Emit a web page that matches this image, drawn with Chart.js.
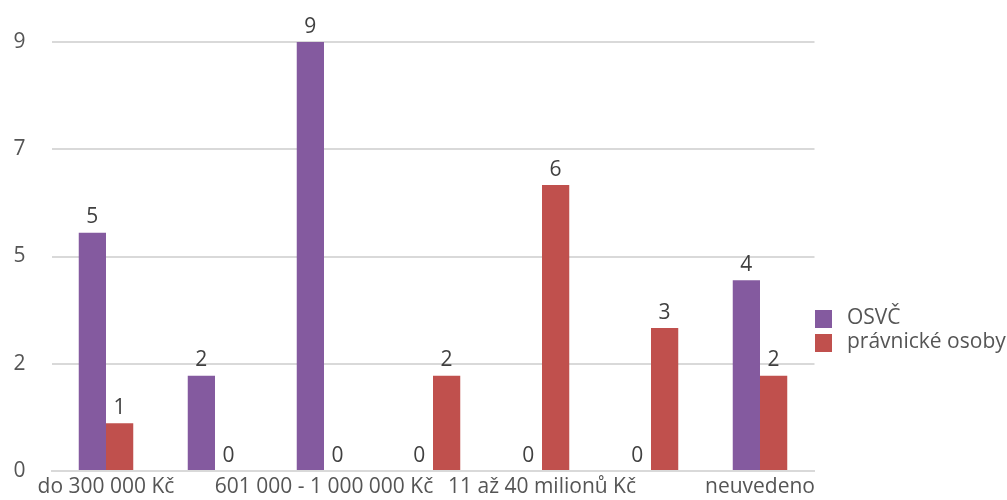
<!DOCTYPE html>
<html>
<head>
<meta charset="utf-8">
<script src="https://cdn.jsdelivr.net/npm/chart.js@4"></script>
<style>
  html, body { margin: 0; padding: 0; background: #ffffff; }
  #wrap { width: 1007px; height: 500px; position: relative; }
</style>
</head>
<body>
<div id="wrap"><canvas id="c" width="1007" height="500"></canvas></div>
<script>
const categories = [
  "do 300 000 Kč",
  "301 000 - 600 000 Kč",
  "601 000 - 1 000 000 Kč",
  "1 až 10 milionů Kč",
  "11 až 40 milionů Kč",
  "nad 40 milionů Kč",
  "neuvedeno"
];
const seriesNames = ["OSVČ", "právnické osoby"];
const osvcValues = [5, 2, 9, 0, 0, 0, 4];
const pravnickeValues = [1, 0, 0, 2, 6, 3, 2];
const yTickValues = [0, 2.25, 4.5, 6.75, 9];
const colors = ["#845A9F", "#C0504D"];

const FONT = "'Open Sans', 'Noto Sans', sans-serif";
const TEXT = "#555555";
const FS = 21;

const dataLabels = {
  id: 'dataLabels',
  afterDatasetsDraw(chart) {
    const ctx = chart.ctx;
    ctx.save();
    ctx.font = FS + "px " + FONT;
    ctx.fillStyle = "#404040";
    ctx.textAlign = "center";
    ctx.textBaseline = "alphabetic";
    chart.data.datasets.forEach((ds, di) => {
      const meta = chart.getDatasetMeta(di);
      meta.data.forEach((bar, i) => {
        ctx.fillText(String(ds.data[i]), bar.x, bar.y - 9.5);
      });
    });
    ctx.restore();
  }
};

const sideLegend = {
  id: 'sideLegend',
  afterDraw(chart) {
    const ctx = chart.ctx;
    ctx.save();
    ctx.font = FS + "px " + FONT;
    ctx.textAlign = "left";
    ctx.textBaseline = "middle";
    chart.data.datasets.forEach((ds, di) => {
      const y = 310 + di * 24;
      ctx.fillStyle = ds.backgroundColor;
      ctx.fillRect(815, y, 17, 18);
      ctx.fillStyle = TEXT;
      ctx.fillText(ds.label, 847, y + 8);
    });
    ctx.restore();
  }
};

new Chart(document.getElementById('c'), {
  type: 'bar',
  data: {
    labels: categories,
    datasets: [
      { label: seriesNames[0], data: osvcValues, backgroundColor: colors[0],
        categoryPercentage: 0.5, barPercentage: 1.0 },
      { label: seriesNames[1], data: pravnickeValues, backgroundColor: colors[1],
        categoryPercentage: 0.5, barPercentage: 1.0 }
    ]
  },
  options: {
    responsive: false,
    animation: false,
    devicePixelRatio: 1,
    layout: { padding: { top: 42, right: 192.5, left: 0, bottom: 0 } },
    plugins: {
      legend: { display: false },
      tooltip: { enabled: false }
    },
    scales: {
      x: {
        grid: { display: false, drawTicks: false },
        border: { display: true, color: '#d9d9d9', width: 2 },
        ticks: {
          autoSkip: false,
          maxRotation: 0,
          minRotation: 0,
          padding: 3,
          color: TEXT,
          font: { size: FS, family: FONT },
          callback: function(value, index) {
            return index % 2 === 0 ? categories[index] : '';
          }
        },
        afterFit(scale) { scale.height = 29; scale.paddingLeft = 0; scale.paddingRight = 0; }
      },
      y: {
        min: 0,
        max: 9,
        afterBuildTicks(scale) {
          scale.ticks = yTickValues.map(v => ({ value: v }));
        },
        grid: { color: '#d9d9d9', lineWidth: 2, drawTicks: false },
        border: { display: false },
        ticks: {
          padding: 26,
          color: TEXT,
          font: { size: FS, family: FONT },
          callback: function(value) { return String(Math.round(value)); }
        },
        afterFit(scale) { scale.width = 51.5; scale.paddingTop = 0; scale.paddingBottom = 0; }
      }
    }
  },
  plugins: [dataLabels, sideLegend]
});
</script>
</body>
</html>
